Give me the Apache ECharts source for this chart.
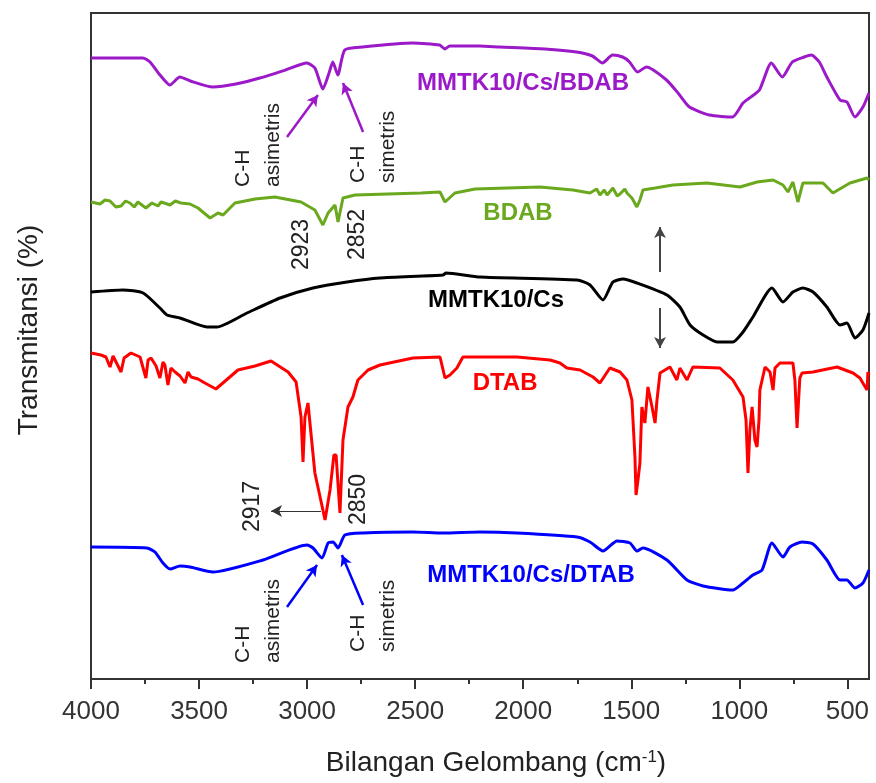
<!DOCTYPE html>
<html>
<head>
<meta charset="utf-8">
<title>FTIR</title>
<script src="https://cdn.jsdelivr.net/npm/echarts@6.0.0/dist/echarts.min.js"></script>
<style>
  html, body { margin: 0; padding: 0; background: #fff; }
  #chart { width: 876px; height: 783px; }
</style>
</head>
<body>
<div id="chart"></div>
<script>
// wavenumber (cm-1) vs transmittance (offset, arbitrary units)
const bdabCompositeData = [
  [4000, 621], [3760, 621], [3727, 617], [3681, 604], [3635, 594], [3589, 602], [3540, 598],
  [3436, 592], [3330, 595], [3219, 601], [3100, 609], [3001, 616], [2964, 611], [2927, 590],
  [2900, 605], [2881, 617], [2858, 604], [2826, 629], [2743, 632], [2511, 636], [2387, 634],
  [2363, 630], [2340, 633], [2202, 633], [2109, 632], [1900, 630], [1753, 627], [1680, 623],
  [1633, 616], [1587, 624], [1540, 622], [1508, 617], [1471, 607], [1430, 612], [1337, 599],
  [1280, 585], [1231, 572], [1138, 564], [1032, 562], [983, 576], [953, 581], [907, 589],
  [852, 616], [801, 602], [755, 617], [700, 622], [667, 624], [630, 617], [595, 602],
  [534, 579], [502, 577], [465, 562], [428, 572], [400, 586]
];
const bdabData = [
  [4000, 477], [3958, 475], [3935, 479], [3912, 478], [3885, 472], [3861, 473], [3840, 478],
  [3820, 476], [3800, 472], [3783, 477], [3746, 471], [3718, 476], [3690, 473], [3676, 477],
  [3634, 474], [3610, 478], [3584, 476], [3542, 475], [3505, 471], [3449, 461], [3412, 466],
  [3389, 464], [3334, 476], [3241, 480], [3149, 482], [3028, 477], [2964, 469], [2927, 454],
  [2903, 466], [2871, 474], [2857, 457], [2834, 481], [2778, 484], [2473, 486], [2385, 487],
  [2362, 477], [2316, 486], [2223, 490], [1922, 492], [1770, 489], [1691, 486], [1660, 490],
  [1645, 484], [1625, 489], [1612, 484], [1585, 491], [1565, 483], [1552, 485], [1530, 490],
  [1520, 486], [1497, 481], [1474, 472], [1460, 479], [1446, 489], [1390, 491], [1307, 494],
  [1150, 496], [997, 492], [918, 497], [844, 499], [798, 494], [775, 487], [752, 497],
  [729, 477], [706, 496], [613, 496], [567, 486], [488, 496], [409, 501], [400, 499]
];
const compositeData = [
  [4000, 387], [3852, 389], [3759, 386], [3681, 371], [3648, 364], [3588, 361], [3463, 352],
  [3417, 352], [3278, 366], [3125, 381], [2973, 391], [2815, 397], [2663, 401], [2371, 404],
  [2357, 406], [2200, 402], [1751, 399], [1691, 394], [1631, 379], [1585, 397], [1538, 400],
  [1474, 396], [1335, 384], [1275, 372], [1228, 354], [1168, 344], [1103, 337], [1030, 337],
  [983, 347], [937, 362], [849, 391], [798, 377], [752, 387], [706, 391], [659, 387],
  [595, 372], [534, 354], [502, 356], [465, 341], [428, 349], [400, 366]
];
const dtabData = [
  [4000, 326], [3954, 324], [3931, 322], [3912, 312], [3898, 323], [3889, 321], [3861, 307],
  [3847, 321], [3815, 326], [3773, 322], [3746, 301], [3736, 319], [3722, 321], [3699, 313],
  [3681, 301], [3667, 317], [3658, 314], [3644, 294], [3630, 311], [3611, 307], [3588, 303],
  [3565, 296], [3551, 307], [3537, 302], [3505, 300], [3473, 296], [3422, 290], [3320, 309],
  [3241, 313], [3167, 318], [3088, 307], [3051, 297], [3028, 262], [3019, 217], [3010, 262],
  [2996, 276], [2964, 206], [2940, 182], [2917, 159], [2894, 189], [2876, 224], [2866, 224],
  [2848, 166], [2834, 239], [2811, 272], [2788, 282], [2765, 299], [2718, 309], [2663, 314],
  [2510, 321], [2385, 322], [2362, 301], [2339, 304], [2307, 311], [2279, 322], [2029, 322],
  [1876, 319], [1830, 316], [1798, 311], [1737, 309], [1677, 302], [1645, 296], [1599, 311],
  [1552, 307], [1520, 299], [1497, 279], [1483, 222], [1478, 184], [1469, 199], [1460, 216],
  [1451, 272], [1437, 256], [1423, 292], [1404, 272], [1390, 256], [1381, 279], [1367, 306],
  [1321, 312], [1289, 299], [1275, 311], [1242, 299], [1215, 312], [1090, 311], [1030, 299],
  [983, 282], [969, 259], [960, 206], [951, 249], [941, 272], [928, 239], [918, 232],
  [909, 259], [905, 289], [881, 312], [858, 307], [844, 289], [835, 311], [812, 316],
  [752, 316], [743, 299], [733, 251], [720, 301], [710, 306], [659, 307], [548, 312],
  [474, 306], [442, 301], [423, 294], [409, 289], [405, 307], [400, 304]
];
const dtabCompositeData = [
  [4000, 132], [3741, 131], [3704, 127], [3667, 116], [3634, 110], [3588, 113], [3542, 112],
  [3436, 107], [3204, 119], [3001, 134], [2973, 131], [2931, 121], [2903, 136], [2880, 137],
  [2857, 131], [2825, 144], [2741, 146], [2510, 147], [2371, 146], [2200, 147], [2029, 146],
  [1751, 142], [1691, 137], [1631, 128], [1566, 138], [1506, 136], [1474, 128], [1446, 131],
  [1335, 119], [1242, 99], [1168, 93], [1030, 89], [983, 96], [937, 104], [895, 109],
  [849, 136], [798, 122], [766, 132], [710, 137], [659, 135], [595, 119], [534, 99],
  [502, 99], [465, 91], [428, 96], [400, 109]
];

const seriesNames = ['MMTK10/Cs/BDAB', 'BDAB', 'MMTK10/Cs', 'DTAB', 'MMTK10/Cs/DTAB'];
const seriesData = [bdabCompositeData, bdabData, compositeData, dtabData, dtabCompositeData];
const seriesColors = ['#9B19C8', '#6AA81E', '#000000', '#FF0000', '#0000FF'];
const seriesSmooth = [0.2, false, 0.2, false, 0.2];

const xTickValues = [4000, 3500, 3000, 2500, 2000, 1500, 1000, 500];
const xMinorTickValues = [3750, 3250, 2750, 2250, 1750, 1250, 750];

const FONT = '"Liberation Sans", Arial, sans-serif';

// label anchors in data coordinates
const nameLabelPos = [[2001, 596], [2024, 466], [2126, 379], [2084, 296], [1964, 104]];
const rotatedNotes = [
  { text: 'C-H', at: [3297, 492] }, { text: 'asimetris', at: [3158, 492] },
  { text: 'C-H', at: [2765, 496] }, { text: 'simetris', at: [2626, 496] },
  { text: '2923', at: [3024, 409], big: true }, { text: '2852', at: [2765, 419], big: true },
  { text: '2917', at: [3250, 147], big: true }, { text: '2850', at: [2760, 154], big: true },
  { text: 'C-H', at: [3297, 16] }, { text: 'asimetris', at: [3158, 16] },
  { text: 'C-H', at: [2765, 27] }, { text: 'simetris', at: [2626, 27] }
];

function arrow(from, to, color, width) {
  return [
    { coord: from, lineStyle: { color: color, width: width, type: 'solid' } },
    { coord: to }
  ];
}

const arrowsBySeries = [
  [arrow([3093, 542], [2950, 584], '#9B19C8', 2.5), arrow([2741, 547], [2834, 596], '#9B19C8', 2.5)],
  [],
  [arrow([1367, 407], [1367, 452], '#444', 2), arrow([1367, 371], [1367, 331], '#444', 2)],
  [arrow([2936, 168], [3167, 168], '#333', 1)],
  [arrow([3093, 72], [2954, 114], '#0000FF', 2.5), arrow([2741, 74], [2839, 124], '#0000FF', 2.5)]
];

const chart = echarts.init(document.getElementById('chart'));

chart.setOption({
  animation: false,
  backgroundColor: '#fff',
  grid: {
    left: 91, right: 7, top: 13, bottom: 104,
    show: true, borderColor: '#333', borderWidth: 2, backgroundColor: 'transparent'
  },
  xAxis: [
    {
      type: 'value', inverse: true, min: 400, max: 4000,
      name: 'Bilangan Gelombang (cm{sup|-1})',
      nameLocation: 'middle', nameGap: 70,
      nameTextStyle: {
        fontFamily: FONT, fontSize: 28, color: '#222', padding: [0, 0, 0, 32],
        rich: { sup: { fontFamily: FONT, fontSize: 17, color: '#222', verticalAlign: 'top', padding: [0, 0, 10, 0] } }
      },
      axisLine: { show: true, lineStyle: { color: '#333', width: 2 } },
      axisTick: { show: true, customValues: xTickValues, length: 10, lineStyle: { color: '#333', width: 2 } },
      axisLabel: {
        customValues: xTickValues, fontFamily: FONT, fontSize: 26, color: '#333', margin: 20,
        formatter: v => String(v)
      },
      splitLine: { show: false }
    },
    {
      type: 'value', inverse: true, min: 400, max: 4000, position: 'bottom',
      axisLine: { show: false },
      axisTick: { show: true, customValues: xMinorTickValues, length: 5, lineStyle: { color: '#333', width: 2 } },
      axisLabel: { show: false },
      splitLine: { show: false }
    }
  ],
  yAxis: {
    type: 'value', min: 0, max: 666,
    name: 'Transmitansi (%)', nameLocation: 'middle', nameGap: 48, nameRotate: 90,
    nameTextStyle: { fontFamily: FONT, fontSize: 28, color: '#222', padding: [0, 0, 0, 32] },
    axisLine: { show: false }, axisTick: { show: false },
    axisLabel: { show: false }, splitLine: { show: false }
  },
  series: seriesNames.map((name, i) => ({
    name: name,
    type: 'line',
    data: seriesData[i],
    showSymbol: false,
    smooth: seriesSmooth[i],
    lineStyle: { color: seriesColors[i], width: 3 },
    itemStyle: { color: seriesColors[i] },
    markLine: {
      silent: true,
      symbol: ['none', 'arrow'],
      symbolSize: [9, 11],
      label: { show: false },
      data: arrowsBySeries[i]
    }
  }))
});

const toPx = p => chart.convertToPixel({ seriesIndex: 0 }, p);
const graphics = [];
seriesNames.forEach((name, i) => {
  const p = toPx(nameLabelPos[i]);
  graphics.push({
    type: 'text', x: p[0], y: p[1],
    style: { text: name, fill: seriesColors[i], font: 'bold 24px ' + FONT, align: 'center', verticalAlign: 'middle' }
  });
});
rotatedNotes.forEach(n => {
  const p = toPx(n.at);
  graphics.push({
    type: 'text', x: p[0], y: p[1], rotation: Math.PI / 2,
    style: { text: n.text, fill: '#222', font: (n.big ? '23px ' : '21px ') + FONT, align: 'left', verticalAlign: 'middle' }
  });
});
chart.setOption({ graphic: graphics });
</script>
</body>
</html>
